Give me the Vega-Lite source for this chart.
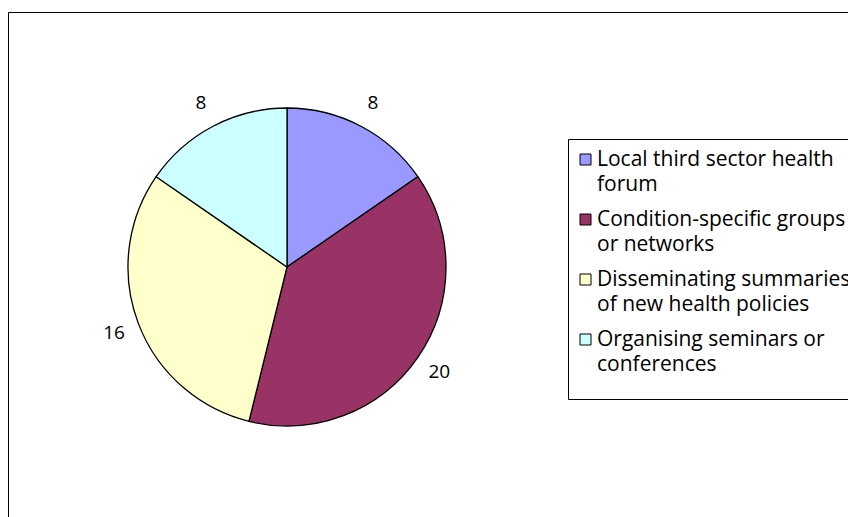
{
  "$schema": "https://vega.github.io/schema/vega-lite/v6.json",
  "width": 850,
  "height": 510,
  "autosize": {"type": "none"},
  "padding": {"left": 8, "top": 12, "right": 0, "bottom": 0},
  "background": "white",
  "view": {"stroke": "black", "strokeWidth": 1, "fill": "white"},
  "config": {
    "view": {"stroke": "black", "strokeWidth": 1},
    "style": {"cell": {"stroke": "black", "strokeWidth": 1}, "guide-label": {"lineHeight": 25}},
    "font": "Open Sans"
  },
  "data": {
    "values": [
      {"category": "Local third sector health forum", "value": 8, "idx": 1},
      {"category": "Condition-specific groups or networks", "value": 20, "idx": 2},
      {"category": "Disseminating summaries of new health policies", "value": 16, "idx": 3},
      {"category": "Organising seminars or conferences", "value": 8, "idx": 4}
    ]
  },
  "encoding": {
    "theta": {"field": "value", "type": "quantitative", "stack": true},
    "order": {"field": "idx", "type": "quantitative", "sort": "ascending"}
  },
  "layer": [
    {
      "mark": {"type": "arc", "outerRadius": 159, "stroke": "black", "strokeWidth": 1.3, "x": 279, "y": 255},
      "encoding": {
        "color": {
          "field": "category",
          "type": "nominal",
          "scale": {
            "domain": ["Local third sector health forum", "Condition-specific groups or networks", "Disseminating summaries of new health policies", "Organising seminars or conferences"],
            "range": ["#9999FF", "#993366", "#FFFFCC", "#CCFFFF"]
          },
          "legend": {
            "title": " ",
            "titleOrient": "bottom",
            "titleFontSize": 10,
            "titleLineHeight": 10,
            "titlePadding": 4,
            "orient": "none",
            "legendX": 560,
            "legendY": 127,
            "strokeColor": "black",
            "fillColor": "white",
            "padding": 10,
            "symbolType": "square",
            "symbolSize": 121,
            "symbolOffset": -3,
            "symbolStrokeColor": "black",
            "symbolStrokeWidth": 1,
            "symbolOpacity": 1,
            "labelFont": "Open Sans",
            "labelFontSize": 21,
            "labelColor": "black",
            "labelLimit": 0,
            "labelOffset": 1,
            "rowPadding": 13,
            "labelExpr": "datum.label == 'Local third sector health forum' ? ['Local third sector health', 'forum'] : datum.label == 'Condition-specific groups or networks' ? ['Condition-specific groups', 'or networks'] : datum.label == 'Disseminating summaries of new health policies' ? ['Disseminating summaries', 'of new health policies'] : ['Organising seminars or', 'conferences']"
          }
        }
      }
    },
    {
      "mark": {"type": "text", "radius": 185, "fontSize": 19, "font": "Open Sans", "color": "black", "x": 279, "y": 255, "baseline": "middle", "align": "center"},
      "encoding": {
        "text": {"field": "value", "type": "quantitative"}
      }
    }
  ]
}
